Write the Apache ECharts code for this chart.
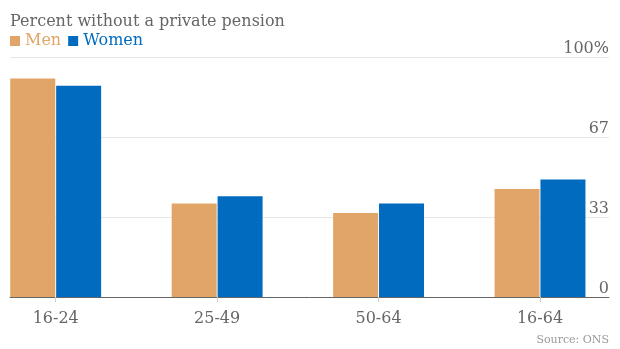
<!DOCTYPE html>
<html><head><meta charset="utf-8">
<script src="https://cdn.jsdelivr.net/npm/echarts@6/dist/echarts.min.js"></script>
<style>html,body{margin:0;padding:0;background:#fff}#c{width:620px;height:349px}</style>
</head><body><div id="c"></div>
<script>
const categories = ['16-24', '25-49', '50-64', '16-64'];
const men = [91, 39, 35, 45];
const women = [88, 42, 39, 49];
const yTicks = [0, 100 / 3, 200 / 3, 100];

const FONT = 'DejaVu Serif';
const chart = echarts.init(document.getElementById('c'), null, {renderer: 'canvas'});
chart.setOption({
  animation: false,
  textStyle: {fontFamily: FONT},
  title: [
    {text: 'Percent without a private pension', left: 10, top: 14, padding: 0,
     textStyle: {fontFamily: FONT, fontSize: 16, fontWeight: 'normal', color: '#666'}},
    {text: 'Source: ONS', right: 11, top: 335, padding: 0,
     textStyle: {fontFamily: FONT, fontSize: 11, fontWeight: 'normal', color: '#999'}}
  ],
  legend: {
    left: 10, top: 33, padding: 0, itemWidth: 10, itemHeight: 10, itemGap: 7, icon: 'rect',
    data: [
      {name: 'Men', textStyle: {color: '#E0A567'}},
      {name: 'Women', textStyle: {color: '#016BBF'}}
    ],
    textStyle: {fontFamily: FONT, fontSize: 16}
  },
  grid: [
    {left: 10, right: 11, top: 57, bottom: 52},
    {left: 55.7, right: 80, top: 57, bottom: 52}
  ],
  xAxis: [
    {gridIndex: 0, type: 'category', data: ['a'],
     axisLine: {lineStyle: {color: '#666', width: 1}}, axisTick: {show: false}, axisLabel: {show: false}},
    {gridIndex: 1, type: 'category', data: categories, boundaryGap: false, offset: 8,
     axisLine: {show: false},
     axisTick: {show: true, length: 5, lineStyle: {color: '#ccc'}},
     axisLabel: {margin: 6, fontFamily: FONT, fontSize: 16, color: '#666'}}
  ],
  yAxis: [
    {gridIndex: 0, type: 'value', position: 'right', min: 0, max: 100, interval: 100 / 3,
     axisLine: {show: false}, axisTick: {show: false},
     splitLine: {lineStyle: {color: '#e6e6e6'}},
     axisLabel: {inside: true, margin: 0, verticalAlign: 'bottom', padding: [0, 0, 0, 0],
       fontFamily: FONT, fontSize: 16, color: '#666',
       formatter: v => { const r = Math.round(v); return r === 100 ? '100%' : String(r); }}},
    {gridIndex: 1, type: 'value', min: 0, max: 100, show: false}
  ],
  series: [
    {name: 'Men', type: 'bar', xAxisIndex: 1, yAxisIndex: 1, data: men, barWidth: 45, barGap: '2%',
     itemStyle: {color: '#E0A567'}},
    {name: 'Women', type: 'bar', xAxisIndex: 1, yAxisIndex: 1, data: women, barWidth: 45, barGap: '2%',
     itemStyle: {color: '#016BBF'}}
  ]
});
</script></body></html>
